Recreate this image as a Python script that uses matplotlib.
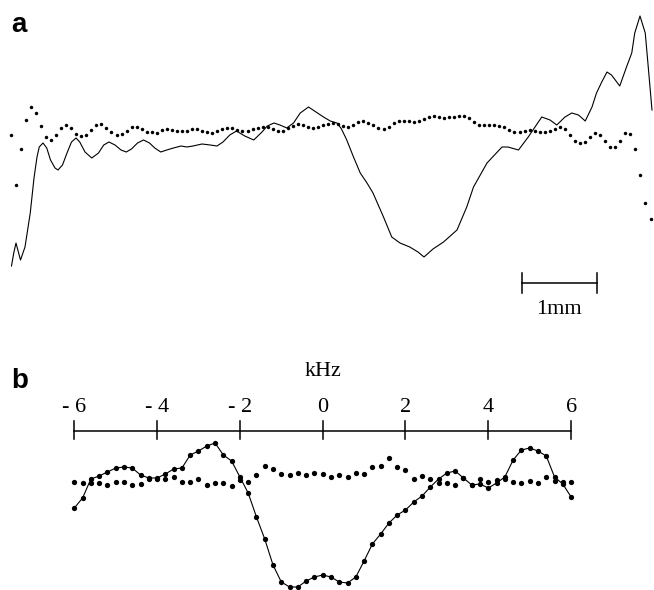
import matplotlib
matplotlib.use('Agg')
import matplotlib.pyplot as plt
import numpy as np

# panel a: position along the line (mm) and signal height (arbitrary units)
a_line_x = [0.02, 0.05, 0.08, 0.14, 0.20, 0.27, 0.32, 0.36, 0.39, 0.44, 0.49, 0.54, 0.60,
            0.64, 0.70, 0.76, 0.82, 0.88, 0.93, 1.00, 1.09, 1.18, 1.25, 1.32, 1.40, 1.48,
            1.55, 1.62, 1.70, 1.78, 1.86, 1.93, 2.01, 2.09, 2.18, 2.28, 2.36, 2.44, 2.56,
            2.67, 2.76, 2.84, 2.93, 3.02, 3.13, 3.25, 3.36, 3.43, 3.52, 3.60, 3.69, 3.78,
            3.87, 3.98, 4.08, 4.18, 4.27, 4.36, 4.42, 4.49, 4.58, 4.67, 4.76, 4.84, 4.98,
            5.09, 5.20, 5.33, 5.44, 5.52, 5.64, 5.78, 5.96, 6.09, 6.18, 6.36, 6.56, 6.64,
            6.78, 6.91, 7.09, 7.20, 7.29, 7.40, 7.49, 7.58, 7.67, 7.76, 7.82, 7.89, 7.96,
            8.02, 8.13, 8.22, 8.29, 8.33, 8.40, 8.47, 8.51, 8.56]
a_line_y = [4, 17, 27, 10, 23, 57, 92, 113, 123, 127, 122, 110, 102,
            100, 105, 117, 128, 132, 128, 118, 112, 117, 125, 128, 125, 120,
            118, 121, 127, 130, 127, 122, 118, 120, 122, 124, 123, 124, 126,
            125, 124, 128, 135, 139, 134, 130, 138, 144, 147, 145, 142, 147,
            157, 163, 158, 153, 149, 147, 141, 130, 113, 97, 87, 77, 53,
            33, 27, 23, 18, 13, 21, 28, 40, 63, 83, 107, 123, 123,
            120, 133, 153, 150, 145, 153, 157, 155, 149, 163, 177, 188, 198,
            195, 184, 203, 217, 237, 254, 237, 203, 160]
a_dots = [135, 85, 121, 150, 163, 157, 144, 133, 130, 135, 142, 145, 142, 136, 134, 135,
          140, 145, 146, 142, 138, 135, 136, 139, 143, 143, 141, 138,
          138, 137, 140, 141, 140, 139, 139, 139, 141, 141, 139, 138, 137, 139, 141, 142,
          142, 140, 139, 139, 141, 142, 143, 143, 141, 139, 139, 142, 144, 146, 145, 143,
          142, 143, 145, 146, 147,
          146, 144, 143, 145, 148, 149, 147, 145, 142, 141, 143, 147, 149, 149, 149, 148,
          149, 151, 153, 154, 153, 152, 153, 153, 154, 154, 152, 148, 145, 145, 145, 145,
          144, 143, 140, 138, 138, 139, 140, 139, 138, 138, 139, 141, 143, 141, 135, 129,
          127, 128, 133, 137, 135, 129, 123, 123, 129, 137, 136, 121, 95, 67, 51]
a_dots_start, a_dots_end = 0.01, 8.54

# panel b: frequency (kHz), sampled every 0.2 kHz
b_line = [82, 92, 111, 114, 118, 122, 123, 122, 115, 112, 112, 116, 121, 122, 135, 139,
          144, 147, 135, 129, 113, 97, 73, 51, 25, 8, 3, 3, 9, 13, 15,
          13, 8, 7, 13, 29, 46, 56, 67, 75, 80, 88, 94, 103, 111, 117, 119, 112, 105, 106,
          102, 107, 113, 130, 140, 142, 139, 134, 113, 106, 93]
b_dots = [108, 107, 107, 107, 105, 108, 108, 105, 106, 111, 111, 111, 113, 108, 108, 111,
          105, 107, 107, 104, 110, 108, 115, 124, 121, 116, 115, 117, 115, 117, 116,
          113, 115, 113, 117, 116, 123, 124, 132, 123, 120, 111, 114, 111, 107, 107, 105,
          112, 105, 111, 108, 110, 111, 108, 107, 109, 107, 113, 109, 108, 108]
b_ticks = [-6, -4, -2, 0, 2, 4, 6]
b_tick_labels = ['- 6', '- 4', '- 2', '0', '2', '4', '6']

serif = 'Liberation Serif'

fig = plt.figure(figsize=(6.54, 5.90), dpi=100)

# ---- panel a
ax = fig.add_axes([0, 260 / 590, 1, 330 / 590])
ax.set_xlim(-10 / 75, 644 / 75)
ax.set_ylim(-60, 270)
ax.axis('off')
ax.plot(a_line_x, a_line_y, color='black', lw=0.8, solid_joinstyle='round')
ax.plot(np.linspace(a_dots_start, a_dots_end, len(a_dots)), a_dots, 'o', color='black',
        ms=2.5, mew=0, clip_on=False)

# scale bar 1 mm
sb_x0 = 6.82
ax.plot([sb_x0, sb_x0 + 1], [-13, -13], color='black', lw=1.1)
ax.plot([sb_x0, sb_x0], [-3, -23], color='black', lw=1.1)
ax.plot([sb_x0 + 1, sb_x0 + 1], [-3, -23], color='black', lw=1.1)
ax.text(sb_x0 + 0.5, -39, '1mm', ha='center', va='center', fontsize=16, family=serif)

# ---- panel b
bx = fig.add_axes([0, 0, 1, 240 / 590])
bx.set_xlim(-322.7 / 41.4, (654 - 322.7) / 41.4)
bx.set_ylim(0, 240)
bx.axis('off')
freq = np.linspace(-6, 6, len(b_line))
bx.plot(freq, b_line, '-o', color='black', lw=0.8, ms=3.8, mew=0, clip_on=False)
bx.plot(freq, b_dots, 'o', color='black', ms=3.8, mew=0, clip_on=False)

axis_y = 159
bx.plot([b_ticks[0], b_ticks[-1]], [axis_y, axis_y], color='black', lw=1.1)
for t, lab in zip(b_ticks, b_tick_labels):
    bx.plot([t, t], [axis_y - 8, axis_y + 10], color='black', lw=1.1)
    bx.text(t, 182, lab, ha='center', va='center', fontsize=16, family=serif)
bx.text(0, 219, 'kHz', ha='center', va='center', fontsize=16, family=serif)

fig.text(11 / 654, (590 - 32) / 590, 'a', fontsize=20, fontweight='bold',
         family='Liberation Sans', va='baseline')
fig.text(11 / 654, (590 - 388) / 590, 'b', fontsize=20, fontweight='bold',
         family='Liberation Sans', va='baseline')

fig.savefig('out.png', dpi=100)
